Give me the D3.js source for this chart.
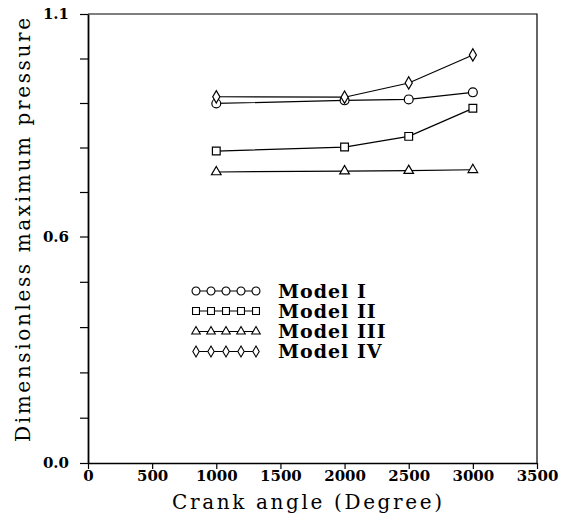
<!DOCTYPE html>
<html>
<head>
<meta charset="utf-8">
<script src="https://cdn.jsdelivr.net/npm/d3@7"></script>
<style>
  body { margin: 0; background: #fff; }
  text { font-family: 'DejaVu Serif', serif; fill: #000; }
</style>
</head>
<body>
<div id="chart"></div>
<script>
const crank_angles = [1000, 2000, 2500, 3000];
const model_1 = [0.899, 0.906, 0.908, 0.924];
const model_2 = [0.792, 0.801, 0.825, 0.888];
const model_3 = [0.745, 0.747, 0.748, 0.750];
const model_4 = [0.914, 0.913, 0.945, 1.008];
const model_names = ['Model I', 'Model II', 'Model III', 'Model IV'];
const x_ticks = [0, 500, 1000, 1500, 2000, 2500, 3000, 3500];
const y_ticks = [0, 0.12, 0.24, 0.36, 0.48, 0.6, 0.7, 0.8, 0.9, 1.0, 1.1];
const y_labels = {0: '0.0', 0.6: '0.6', 1.1: '1.1'};

(function() {
    const width = 566, height = 518;
    const left = 88, right = 537, top = 14, bottom = 463;

    const series = [
        {name: model_names[0], values: model_1, symbol: d3.symbolCircle, size: 62},
        {name: model_names[1], values: model_2, symbol: d3.symbolSquare, size: 60},
        {name: model_names[2], values: model_3, symbol: d3.symbolTriangle, size: 40},
        {name: model_names[3], values: model_4, symbol: d3.symbolDiamond, size: 44}
    ];

    let x = d3.scaleLinear().domain([0, 3500]).range([left, right]);
    // the axis is broken: 0-0.6 and 0.6-1.1 share the same tick spacing
    let y = d3.scaleLinear().domain([0, 0.6, 1.1]).range([bottom, 236.5, top]);

    let svg = d3.select('#chart').append('svg')
        .attr('width', width)
        .attr('height', height);

    // frame top and right
    svg.append('path')
        .attr('d', `M${left},${top}H${right}V${bottom}`)
        .attr('fill', 'none')
        .attr('stroke', '#000')
        .attr('stroke-width', 1.2);

    let xAxis = svg.append('g')
        .attr('transform', 'translate(0,' + bottom + ')')
        .call(d3.axisBottom(x).tickValues(x_ticks).tickSize(6).tickSizeOuter(0).tickFormat(d3.format('d')));
    xAxis.select('.domain').attr('stroke-width', 1.5);
    xAxis.selectAll('.tick line').attr('stroke-width', 1.2);
    xAxis.selectAll('.tick text')
        .attr('font-size', 15)
        .attr('font-family', "'DejaVu Serif', serif")
        .attr('font-weight', 'bold')
        .attr('dy', '0.95em')
        .attr('y', 4);

    let yAxis = svg.append('g')
        .attr('transform', 'translate(' + left + ',0)')
        .call(d3.axisLeft(y).tickValues(y_ticks).tickSize(8).tickSizeOuter(0)
            .tickFormat((d) => y_labels[d] || ''));
    yAxis.select('.domain').attr('stroke-width', 1.8);
    yAxis.selectAll('.tick line').attr('stroke-width', 1.2);
    yAxis.selectAll('.tick text')
        .attr('font-size', 15)
        .attr('font-family', "'DejaVu Serif', serif")
        .attr('font-weight', 'bold')
        .attr('x', -19);

    let line = d3.line()
        .x((d, i) => x(crank_angles[i]))
        .y((d) => y(d));

    let plot = svg.append('g');

    series.forEach(function(s) {
        plot.append('path').datum(s.values)
            .attr('fill', 'none')
            .attr('stroke', '#000')
            .attr('stroke-width', 1.2)
            .attr('d', line);

        plot.selectAll(null)
            .data(s.values)
            .enter().append('path')
            .attr('transform', (d, i) => 'translate(' + x(crank_angles[i]) + ',' + y(d) + ')')
            .attr('d', d3.symbol().type(s.symbol).size(s.size))
            .attr('fill', '#fff')
            .attr('stroke', '#000')
            .attr('stroke-width', 1.2);
    });

    // legend
    let legend = svg.append('g');
    let legend_x0 = 196, legend_step = 15, legend_rows = [291, 311, 331.5, 351.5];

    series.forEach(function(s, i) {
        let row = legend.append('g')
            .attr('transform', 'translate(0,' + legend_rows[i] + ')');
        row.append('line')
            .attr('x1', legend_x0)
            .attr('x2', legend_x0 + 4 * legend_step)
            .attr('stroke', '#000')
            .attr('stroke-width', 1.2);
        row.selectAll('path')
            .data(d3.range(5))
            .enter().append('path')
            .attr('transform', (d) => 'translate(' + (legend_x0 + d * legend_step) + ',0)')
            .attr('d', d3.symbol().type(s.symbol).size(s.size * 0.8))
            .attr('fill', '#fff')
            .attr('stroke', '#000')
            .attr('stroke-width', 1.1);
        row.append('text')
            .attr('x', 278)
            .attr('dy', '0.36em')
            .attr('font-size', 19)
            .attr('font-weight', 'bold')
            .attr('letter-spacing', 1)
            .text(s.name);
    });

    svg.append('text')
        .attr('x', 172)
        .attr('y', 509)
        .attr('font-size', 20)
        .attr('textLength', 270)
        .attr('lengthAdjust', 'spacing')
        .text('Crank angle (Degree)');

    svg.append('text')
        .attr('transform', 'translate(30,442) rotate(-90)')
        .attr('font-size', 20)
        .attr('textLength', 424)
        .attr('lengthAdjust', 'spacing')
        .text('Dimensionless maximum pressure');
}());
</script>
</body>
</html>
